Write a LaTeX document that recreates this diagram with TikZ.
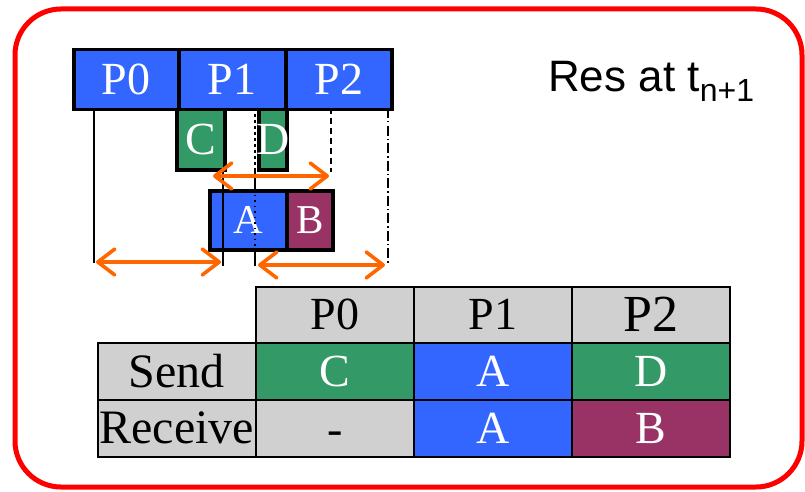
\documentclass[tikz,border=0pt]{standalone}
\usepackage{fontspec}
\setmainfont{Liberation Serif}
\newfontfamily\arialf{Liberation Sans}
\usetikzlibrary{arrows.meta}
\definecolor{pblue}{HTML}{3366FF}
\definecolor{pgreen}{HTML}{339966}
\definecolor{ppurple}{HTML}{993366}
\definecolor{pgray}{HTML}{D0D0D0}
\definecolor{porange}{HTML}{FF6600}
\begin{document}
\begin{tikzpicture}[x=1pt,y=-1pt,
  box/.style={draw=black,line width=3.5pt,text=white,inner sep=0pt,anchor=north west},
  barbox/.style={box,fill=pblue,minimum height=60pt,font=\fontsize{46}{46}\selectfont},
  gbox/.style={box,fill=pgreen,minimum height=60pt,font=\fontsize{46}{46}\selectfont},
  lowbox/.style={box,minimum height=59pt,font=\fontsize{41}{41}\selectfont},
  vline/.style={line width=1.8pt,black},
  oarrow/.style={porange,line width=3.6pt,line cap=round,{Straight Barb[length=17pt,width=26pt,round]}-{Straight Barb[length=17pt,width=26pt,round]}},
  cell/.style={draw=black,line width=1.5pt,inner sep=0pt,anchor=north west,minimum width=158pt,minimum height=57pt,font=\fontsize{46}{46}\selectfont},
  gcell/.style={cell,fill=pgray,text=black},
]
\useasboundingbox (0,0) rectangle (805,492);
\draw[red,line width=5pt,rounded corners=46pt] (15,9) rectangle (802,487);

% lower boxes
\node[gbox,minimum width=48pt] (c) at (175,108) {C};
\node[gbox,minimum width=28pt] (d) at (257,108) {};
\node[lowbox,fill=pblue,minimum width=77pt] (a) at (208,189) {A};
\node[lowbox,fill=ppurple,minimum width=46pt] (b) at (285,189) {B};

% top bar
\node[barbox,minimum width=105pt] (p0) at (72,48) {P0};
\node[barbox,minimum width=107pt] (p1) at (177,48) {P1};
\node[barbox,minimum width=106pt] (p2) at (284,48) {P2};

% vertical guide lines
\coordinate (l0t) at (94,108);  \coordinate (l0b) at (94,263);
\coordinate (l1t) at (223,168); \coordinate (l1b) at (223,266);
\coordinate (l2t) at (255,108); \coordinate (l2m) at (255,168);
\coordinate (l2n) at (255,189); \coordinate (l2o) at (255,248);
\coordinate (l2b) at (255,266);
\coordinate (l3t) at (331,108); \coordinate (l3b) at (331,172);
\coordinate (l4t) at (388,108); \coordinate (l4b) at (388,263);
\draw[vline] (l0t) -- (l0b);
\draw[vline] (l1t) -- (l1b);
\draw[vline,dash pattern=on 3pt off 3pt] (l2t) -- (l2m);
\draw[vline] (l2m) -- (l2n);
\draw[vline,dash pattern=on 1.5pt off 4pt] (l2n) -- (l2o);
\draw[vline] (l2o) -- (l2b);
\draw[vline,dash pattern=on 6pt off 4pt] (l3t) -- (l3b);
\draw[vline,dash pattern=on 10pt off 3pt on 1.5pt off 3pt] (l4t) -- (l4b);

% D label drawn over the narrow box and the guide line
\node[inner sep=0pt,text=white,font=\fontsize{46}{46}\selectfont] (dl) at (d.center) {D};

% orange arrows
\coordinate (a1l) at (213,176); \coordinate (a1r) at (329,176);
\coordinate (a2l) at (96,262);  \coordinate (a2r) at (221,262);
\coordinate (a3l) at (258,265); \coordinate (a3r) at (385,265);
\draw[oarrow] (a1l) -- (a1r);
\draw[oarrow] (a2l) -- (a2r);
\draw[oarrow] (a3l) -- (a3r);

% title
\node[anchor=base west,inner sep=0pt,font=\arialf\fontsize{44}{44}\selectfont] (res) at (548,92)
  {Res at t\raisebox{-10pt}{\fontsize{32}{32}\selectfont n+1}};

% table
\node[gcell,minimum height=56pt] (h0) at (255,286) {P0};
\node[gcell,minimum height=56pt] (h1) at (413,286) {P1};
\node[gcell,minimum height=56pt,font=\fontsize{52}{52}\selectfont] (h2) at (571,286) {P2};
\node[gcell,font=\fontsize{48}{48}\selectfont] (sl) at (97,342) {Send};
\node[cell,fill=pgreen,text=white] (s0) at (255,342) {C};
\node[cell,fill=pblue,text=white] (s1) at (413,342) {A};
\node[cell,fill=pgreen,text=white] (s2) at (571,342) {D};
\node[gcell,font=\fontsize{48}{48}\selectfont] (rl) at (97,399) {Receive};
\node[gcell] (r0) at (255,399) {\smash{\raisebox{-16pt}{-}}};
\node[cell,fill=pblue,text=white] (r1) at (413,399) {A};
\node[cell,fill=ppurple,text=white] (r2) at (571,399) {B};
\end{tikzpicture}
\end{document}
